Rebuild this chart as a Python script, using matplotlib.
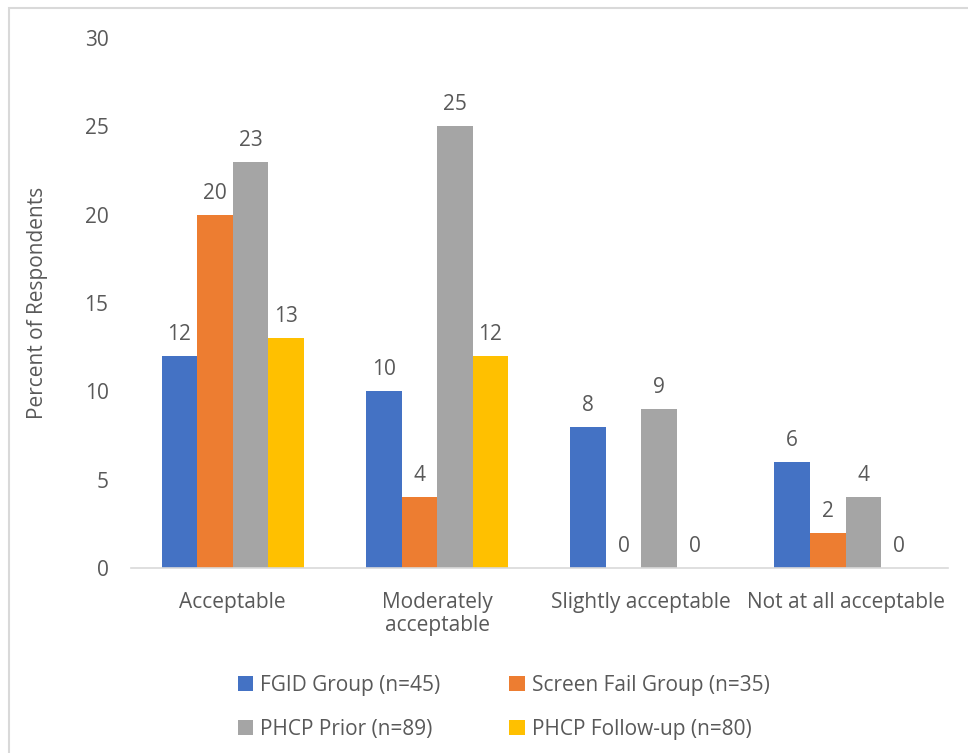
import matplotlib.pyplot as plt
import numpy as np
from matplotlib.patches import Rectangle

categories = ['Acceptable', 'Moderately\nacceptable', 'Slightly acceptable', 'Not at all acceptable']
series = ['FGID Group (n=45)', 'Screen Fail Group (n=35)', 'PHCP Prior (n=89)', 'PHCP Follow-up (n=80)']
fgid = [12, 10, 8, 6]
screen_fail = [20, 4, 0, 2]
phcp_prior = [23, 25, 9, 4]
phcp_follow = [13, 12, 0, 0]
colors = ['#4472C4', '#ED7D31', '#A5A5A5', '#FFC000']

plt.rcParams['font.family'] = ['Open Sans', 'DejaVu Sans']
txt = '#595959'
fs = 15

fig = plt.figure(figsize=(9.68, 7.53), dpi=100)
ax = fig.add_axes([0.135, 0.2457, 0.844, 0.7038])

# chart border (only top/left edges visible in the crop)
fig.patches.append(Rectangle((9 / 968, -0.1), 1.2, 1 - 8 / 753 + 0.1,
                             transform=fig.transFigure, fill=False,
                             edgecolor='#d9d9d9', linewidth=1.5))

x = np.arange(len(categories))
w = 0.174
data = [fgid, screen_fail, phcp_prior, phcp_follow]
handles = []
for i, (vals, c, name) in enumerate(zip(data, colors, series)):
    pos = x + (i - 1.5) * w
    bars = ax.bar(pos, vals, w, color=c, label=name)
    handles.append(bars)
    for xp, v in zip(pos, vals):
        ax.annotate(str(v), (xp, v), xytext=(0, 8), textcoords='offset points',
                    ha='center', va='bottom', fontsize=fs, color=txt)

ax.set_xlim(-0.5, 3.5)
ax.set_ylim(0, 30)
ax.set_yticks(range(0, 31, 5))
ax.set_xticks(x)
ax.set_xticklabels(categories, fontsize=fs, color=txt, linespacing=1.15)
ax.tick_params(axis='y', labelsize=fs, labelcolor=txt, length=0, pad=16)
ax.tick_params(axis='x', length=0, pad=17)
for s in ['top', 'right', 'left']:
    ax.spines[s].set_visible(False)
ax.spines['bottom'].set_color('#d9d9d9')
ax.spines['bottom'].set_linewidth(1.2)
ax.set_ylabel('Percent of Respondents', fontsize=fs, color=txt, labelpad=26)

# row-wise order: FGID, Screen Fail / PHCP Prior, PHCP Follow-up
order = [0, 2, 1, 3]
fig.legend([handles[k] for k in order], [series[k] for k in order],
           loc='upper left', bbox_to_anchor=(0.226, 0.129), ncol=2, frameon=False,
           fontsize=fs, labelcolor=txt, handlelength=0.75, handleheight=0.75,
           columnspacing=3.3, handletextpad=0.35, labelspacing=1.1)

fig.savefig('out.png', dpi=100)
